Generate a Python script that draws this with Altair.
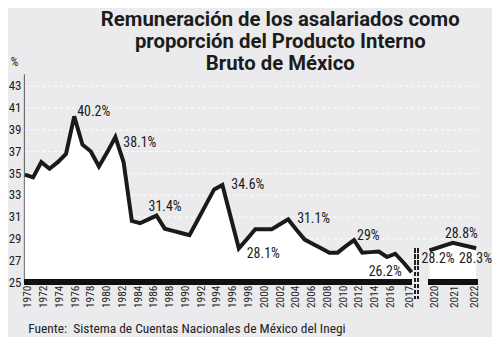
import altair as alt
import pandas as pd

# ---------------- data ----------------
main_years = list(range(1970, 2018))
main_share = [34.85, 34.6, 36.0, 35.4, 36.0, 36.75, 40.2, 37.6, 37.0, 35.6,
              36.9, 38.3, 36.0, 30.6, 30.4, 30.75, 31.1, 29.9, 29.7, 29.5,
              29.3, 30.7, 32.1, 33.5, 33.9, 31.0, 28.1, 28.95, 29.85, 29.85,
              29.85, 30.3, 30.75, 29.8, 28.9, 28.5, 28.1, 27.7, 27.7, 28.3,
              28.85, 27.7, 27.75, 27.8, 27.3, 27.6, 26.8, 25.9]
recent_years = [2020, 2021, 2022]
recent_share = [27.9, 28.6, 28.1]

label_years = [1976, 1981, 1986, 1994, 1996, 2002, 2010, 2017, 2020, 2021, 2022]
label_texts = ["40.2%", "38.1%", "31.4%", "34.6%", "28.1%", "31.1%", "29%",
               "26.2%", "28.2%", "28.8%", "28.3%"]
label_place = ["ur", "dr", "a", "r", "dr", "r", "ur", "l", "bl", "a", "br"]

y_ticks = list(range(25, 44, 2))
x_ticks = list(range(1970, 2017, 2)) + [2017] + recent_years

title_lines = ["Remuneración de los asalariados como",
               "proporción del Producto Interno",
               "Bruto de México"]
source_text = "Fuente:\u00a0 Sistema de Cuentas Nacionales de México del Inegi"

# ---------------- tables ----------------
series = pd.DataFrame({
    "year": main_years + recent_years,
    "share": main_share + recent_share,
    "period": ["1970-2017"] * len(main_years) + ["2020-2022"] * len(recent_years),
})
lookup = dict(zip(series["year"], series["share"]))
labels = pd.DataFrame({
    "year": label_years,
    "text": label_texts,
    "place": label_place,
    "share": [lookup[y] for y in label_years],
})

FONT = "Roboto Condensed, DejaVu Sans Condensed, Liberation Sans Narrow, Roboto, sans-serif"
INK = "#1a1a1a"
BG = "#ebebed"

x_scale = alt.Scale(domain=[1969.88, 2017, 2020, 2022, 2022.05],
                    range=[0, 391, 409, 456, 457], nice=False, zero=False)
y_scale = alt.Scale(domain=[25, 44.1], nice=False, zero=False)

x_axis = alt.Axis(
    values=x_ticks, labelAngle=270, grid=False, domain=False, ticks=False,
    labelFont=FONT, labelFontSize=11.5, labelColor="#222", labelPadding=3,
    labelOverlap=False, labelFlush=False, format="d",
    labelOffset={"expr": "datum.value <= 2016 ? 3 - 0.35*(datum.value-1970) : "
                         "(datum.value == 2017 ? -2 : 5 - 3.5*(datum.value-2020))"},
    title=source_text, titleFont=FONT, titleFontSize=13.5, titleFontWeight="normal",
    titleColor="#222", titleAlign="left", titleBaseline="alphabetic",
    titleX=4, titleY=51,
)
y_axis = alt.Axis(
    values=y_ticks, grid=True, gridColor="white", gridDash=[3, 3], gridWidth=1,
    domain=True, domainColor="#555", domainWidth=1, ticks=False,
    labelOverlap=False, labelFlush=False,
    labelFont=FONT, labelFontSize=13, labelColor="#222", labelPadding=3,
    title="%", titleAngle=0, titleFont=FONT, titleFontSize=12,
    titleFontWeight="normal", titleColor="#222", titleAlign="center",
    titleBaseline="middle", titleX=-10, titleY=-12,
)


def X(**kw):
    return alt.X(scale=x_scale, axis=x_axis, **kw)


def Y(**kw):
    return alt.Y(scale=y_scale, axis=y_axis, **kw)


base = alt.Chart(series)

area = base.mark_area(color="white").encode(
    x=X(field="year", type="quantitative"), y=Y(field="share", type="quantitative"),
    y2=alt.datum(25), detail="period:N")

line = base.mark_line(color=INK, strokeWidth=4, strokeJoin="miter").encode(
    x=X(field="year", type="quantitative"), y=Y(field="share", type="quantitative"),
    detail="period:N")

base_main = base.mark_rule(color="#111", strokeWidth=4.5).encode(
    x=X(datum=main_years[0]), x2=alt.datum(main_years[-1]), y=Y(datum=25))
base_recent = base.mark_rule(color="#111", strokeWidth=4.5).encode(
    x=X(datum=recent_years[0] - 0.12), x2=alt.datum(recent_years[-1] + 0.05),
    y=Y(datum=25))

break_a = base.mark_rule(color="#222", strokeWidth=1.5, strokeDash=[4, 2]).encode(
    x=X(datum=main_years[-1] + 0.6), y=Y(datum=28.1), y2=alt.datum(23.45))
break_b = base.mark_rule(color="#222", strokeWidth=1.5, strokeDash=[4, 2]).encode(
    x=X(datum=main_years[-1] + 1.1), y=Y(datum=28.1), y2=alt.datum(23.45))

PLACE = {
    "ur": dict(align="left", dx=3, dy=-4),
    "dr": dict(align="left", dx=8, dy=6),
    "r": dict(align="left", dx=9, dy=0),
    "a": dict(align="left", dx=-8, dy=-9),
    "l": dict(align="right", dx=-10, dy=0),
    "bl": dict(align="left", dx=-8, dy=9),
    "br": dict(align="right", dx=16, dy=11),
}
text_layers = []
for key, opts in PLACE.items():
    text_layers.append(
        alt.Chart(labels).transform_filter(alt.datum.place == key)
        .mark_text(font=FONT, fontSize=14, color=INK, baseline="middle", **opts)
        .encode(x=X(field="year", type="quantitative"),
                y=Y(field="share", type="quantitative"), text="text:N")
    )

chart = alt.layer(area, base_main, base_recent, line, break_a, break_b, *text_layers).properties(
    width=457, height=210,
    title=alt.TitleParams(text=title_lines, font="Roboto", fontSize=20.5, fontWeight="bold",
                          lineHeight=22.5, color="#1c1c1c", anchor="middle", frame="group",
                          dx=30, offset=-19),
    background=BG, padding=0,
).configure_view(stroke=None)

chart.save("out.html", embed_options={"renderer": "svg", "actions": False})
